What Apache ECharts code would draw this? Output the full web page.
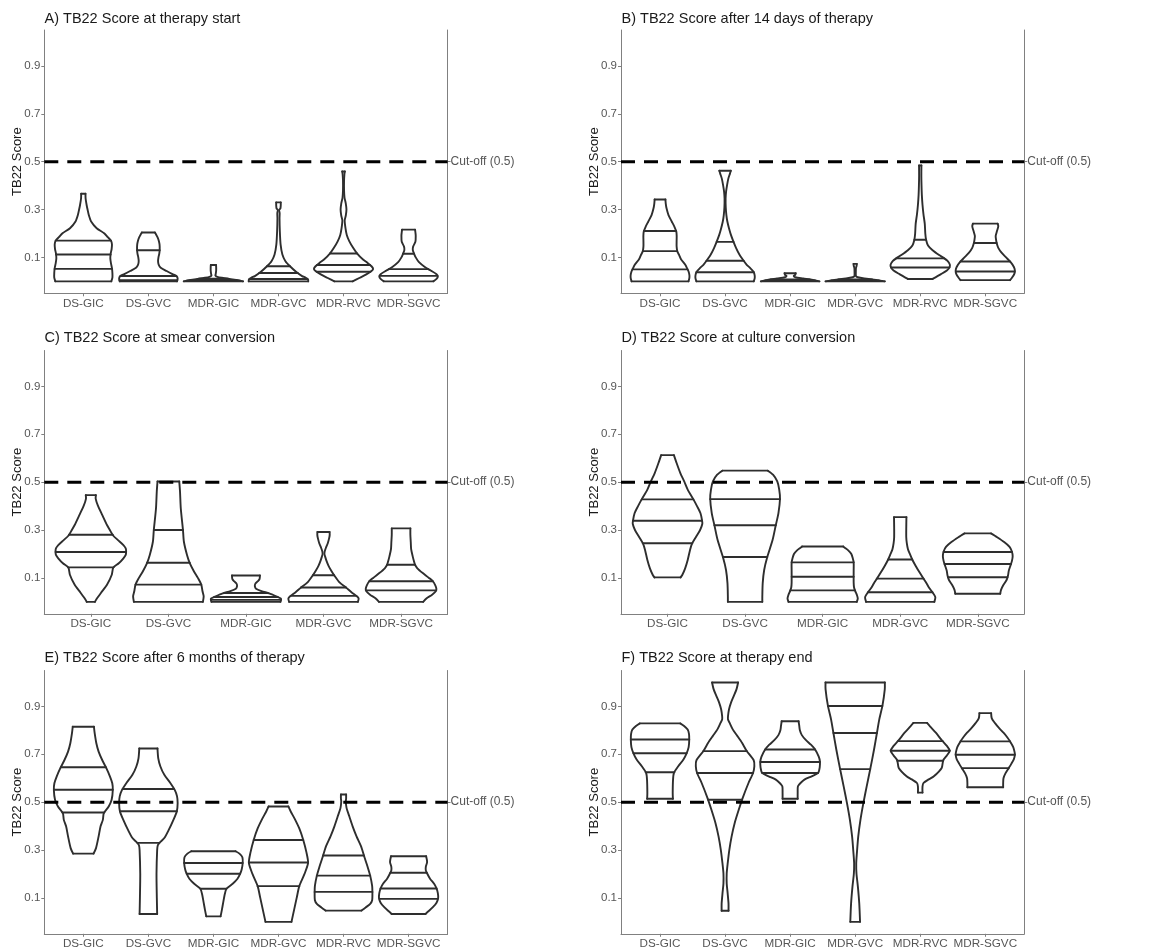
<!DOCTYPE html>
<html><head><meta charset="utf-8">
<script src="https://cdn.jsdelivr.net/npm/echarts@6/dist/echarts.min.js"></script>
<style>html,body{margin:0;padding:0;background:#fff}#c{width:1152px;height:951px}#err{position:absolute;left:100px;top:100px;font:11px monospace;color:red;white-space:pre;z-index:9}</style>
</head><body><div id="c"></div><div id="err"></div>
<script>
window.onerror = function(m,s,l,c,e){ document.getElementById('err').textContent += (e && e.stack ? e.stack : m) + '\n'; };
// ---------- categories & ticks ----------
const catsSix = ['DS-GIC','DS-GVC','MDR-GIC','MDR-GVC','MDR-RVC','MDR-SGVC'];
const catsFive = ['DS-GIC','DS-GVC','MDR-GIC','MDR-GVC','MDR-SGVC'];
const yTicks = [0.1,0.3,0.5,0.7,0.9];
const cutoff = 0.5;
const cutoffLabel = 'Cut-off (0.5)';
const titles = ['A) TB22 Score at therapy start','B) TB22 Score after 14 days of therapy',
  'C) TB22 Score at smear conversion','D) TB22 Score at culture conversion',
  'E) TB22 Score after 6 months of therapy','F) TB22 Score at therapy end'];

// ---------- violin profiles: [score, half-width in category units] ----------
// Panel A
const vA1 = [[0,0.43],[0.015,0.447],[0.035,0.447],[0.055,0.44],[0.075,0.425],[0.095,0.415],[0.115,0.42],[0.135,0.435],[0.155,0.44],[0.17,0.425],[0.185,0.375],[0.201,0.32],[0.222,0.205],[0.25,0.12],[0.277,0.084],[0.3,0.065],[0.32,0.05],[0.346,0.035],[0.366,0.033]];
const vA2 = [[0,0.44],[0.012,0.45],[0.022,0.43],[0.03,0.37],[0.043,0.28],[0.057,0.19],[0.07,0.158],[0.084,0.149],[0.1,0.155],[0.115,0.167],[0.131,0.174],[0.153,0.172],[0.17,0.16],[0.185,0.14],[0.195,0.12],[0.204,0.1]];
const vA3 = [[0,0.456],[0.005,0.38],[0.01,0.25],[0.015,0.13],[0.019,0.06],[0.024,0.03],[0.03,0.035],[0.045,0.042],[0.06,0.042],[0.068,0.04]];
const vA4 = [[0,0.457],[0.008,0.455],[0.015,0.42],[0.022,0.363],[0.04,0.27],[0.063,0.177],[0.084,0.107],[0.112,0.06],[0.153,0.033],[0.208,0.021],[0.263,0.016],[0.285,0.018],[0.298,0.01],[0.305,0.03],[0.318,0.035],[0.33,0.035]];
const vA5 = [[0,0.14],[0.015,0.25],[0.029,0.35],[0.043,0.43],[0.052,0.455],[0.063,0.43],[0.077,0.37],[0.091,0.3],[0.116,0.21],[0.139,0.15],[0.167,0.09],[0.194,0.05],[0.222,0.03],[0.255,0.018],[0.275,0.035],[0.3,0.045],[0.325,0.035],[0.35,0.015],[0.38,0.008],[0.42,0.008],[0.445,0.013],[0.459,0.02]];
const vA6 = [[0,0.38],[0.01,0.43],[0.02,0.45],[0.03,0.43],[0.045,0.34],[0.06,0.25],[0.08,0.16],[0.1,0.11],[0.115,0.085],[0.13,0.065],[0.145,0.07],[0.165,0.105],[0.19,0.11],[0.205,0.105],[0.216,0.1]];
const qA = [[0.052,0.112,0.17],[0.005,0.022,0.13],[0.003,0.006,0.011],[0.01,0.035,0.063],[0.04,0.068,0.116],[0.023,0.051,0.115]];
// Panel B
const vB1 = [[0,0.437],[0.012,0.45],[0.025,0.452],[0.04,0.44],[0.052,0.42],[0.07,0.386],[0.091,0.325],[0.112,0.29],[0.126,0.265],[0.146,0.255],[0.167,0.255],[0.19,0.256],[0.208,0.25],[0.229,0.22],[0.25,0.18],[0.277,0.13],[0.305,0.1],[0.325,0.088],[0.342,0.083]];
const vB2 = [[0,0.44],[0.012,0.455],[0.025,0.455],[0.039,0.44],[0.057,0.38],[0.07,0.33],[0.088,0.28],[0.112,0.22],[0.139,0.17],[0.165,0.13],[0.194,0.09],[0.222,0.06],[0.25,0.035],[0.277,0.02],[0.31,0.01],[0.346,0.008],[0.374,0.015],[0.401,0.03],[0.429,0.05],[0.45,0.075],[0.462,0.088]];
const vB3 = [[0,0.45],[0.006,0.35],[0.012,0.2],[0.017,0.08],[0.022,0.055],[0.028,0.08],[0.034,0.085]];
const vB4 = [[0,0.455],[0.006,0.32],[0.012,0.14],[0.017,0.04],[0.022,0.012],[0.04,0.01],[0.055,0.012],[0.065,0.022],[0.073,0.025]];
const vB5 = [[0.01,0.19],[0.03,0.32],[0.045,0.41],[0.058,0.45],[0.07,0.455],[0.085,0.42],[0.096,0.37],[0.11,0.29],[0.13,0.19],[0.15,0.12],[0.174,0.09],[0.2,0.078],[0.24,0.07],[0.28,0.05],[0.32,0.035],[0.36,0.025],[0.4,0.02],[0.44,0.017],[0.484,0.018]];
const vB6 = [[0.005,0.38],[0.015,0.41],[0.03,0.445],[0.045,0.455],[0.06,0.44],[0.08,0.39],[0.1,0.32],[0.12,0.25],[0.14,0.2],[0.16,0.175],[0.175,0.165],[0.19,0.16],[0.21,0.18],[0.23,0.2],[0.241,0.19]];
const qB = [[0.05,0.126,0.21],[0.038,0.086,0.165],[0.002,0.004,0.008],[0.002,0.004,0.008],[0.058,0.096,0.174],[0.041,0.083,0.16]];
// Panel C
const vC1 = [[0,0.053],[0.01,0.07],[0.037,0.13],[0.072,0.21],[0.113,0.27],[0.143,0.29],[0.161,0.36],[0.182,0.42],[0.196,0.45],[0.21,0.455],[0.223,0.45],[0.237,0.42],[0.258,0.35],[0.276,0.29],[0.3,0.245],[0.32,0.21],[0.361,0.15],[0.403,0.09],[0.43,0.063],[0.446,0.065]];
const vC2 = [[0,0.445],[0.023,0.455],[0.044,0.44],[0.072,0.424],[0.1,0.38],[0.127,0.33],[0.161,0.277],[0.196,0.24],[0.251,0.2],[0.3,0.188],[0.39,0.16],[0.46,0.15],[0.503,0.14]];
const vC3 = [[0,0.445],[0.01,0.453],[0.014,0.45],[0.023,0.39],[0.035,0.3],[0.045,0.2],[0.055,0.13],[0.065,0.115],[0.075,0.12],[0.085,0.15],[0.095,0.175],[0.11,0.18]];
const vC4 = [[0,0.443],[0.014,0.453],[0.023,0.43],[0.04,0.36],[0.06,0.29],[0.08,0.21],[0.11,0.14],[0.13,0.1],[0.15,0.065],[0.17,0.04],[0.19,0.02],[0.2,0.012],[0.21,0.015],[0.225,0.03],[0.245,0.055],[0.265,0.072],[0.28,0.08],[0.292,0.078]];
const vC5 = [[0,0.285],[0.015,0.33],[0.03,0.4],[0.045,0.45],[0.055,0.455],[0.07,0.44],[0.086,0.41],[0.1,0.36],[0.12,0.28],[0.14,0.21],[0.155,0.18],[0.165,0.17],[0.19,0.15],[0.22,0.13],[0.25,0.125],[0.28,0.12],[0.307,0.12]];
const qC = [[0.144,0.208,0.28],[0.072,0.163,0.3],[0.008,0.02,0.037],[0.025,0.06,0.111],[0.048,0.086,0.155]];
// Panel D
const vD1 = [[0.102,0.168],[0.112,0.19],[0.14,0.227],[0.175,0.26],[0.217,0.29],[0.243,0.316],[0.273,0.37],[0.3,0.42],[0.325,0.448],[0.34,0.445],[0.37,0.425],[0.4,0.38],[0.43,0.33],[0.469,0.26],[0.503,0.215],[0.538,0.165],[0.58,0.117],[0.613,0.082]];
const vD2 = [[0,0.222],[0.021,0.222],[0.077,0.227],[0.133,0.246],[0.186,0.285],[0.259,0.355],[0.319,0.395],[0.371,0.43],[0.431,0.45],[0.469,0.44],[0.503,0.415],[0.531,0.36],[0.548,0.293]];
const vD3 = [[0,0.44],[0.014,0.453],[0.03,0.44],[0.045,0.42],[0.06,0.405],[0.08,0.4],[0.13,0.4],[0.165,0.4],[0.18,0.39],[0.2,0.37],[0.215,0.33],[0.225,0.29],[0.231,0.265]];
const vD4 = [[0,0.44],[0.02,0.453],[0.038,0.42],[0.06,0.37],[0.08,0.335],[0.097,0.3],[0.12,0.255],[0.15,0.2],[0.177,0.155],[0.2,0.125],[0.22,0.1],[0.245,0.085],[0.27,0.078],[0.31,0.078],[0.354,0.08]];
const vD5 = [[0.034,0.29],[0.05,0.3],[0.07,0.33],[0.09,0.37],[0.11,0.39],[0.13,0.4],[0.15,0.42],[0.17,0.44],[0.19,0.45],[0.21,0.44],[0.23,0.41],[0.25,0.34],[0.27,0.25],[0.286,0.17]];
const qD = [[0.245,0.339,0.428],[0.187,0.32,0.429],[0.048,0.105,0.165],[0.04,0.097,0.177],[0.103,0.158,0.208]];
// Panel E
const vE1 = [[0.285,0.157],[0.308,0.195],[0.357,0.235],[0.399,0.265],[0.426,0.3],[0.454,0.315],[0.482,0.39],[0.51,0.435],[0.551,0.453],[0.579,0.445],[0.607,0.41],[0.644,0.35],[0.676,0.29],[0.711,0.235],[0.746,0.2],[0.787,0.175],[0.815,0.163]];
const vE2 = [[0.033,0.135],[0.1,0.13],[0.2,0.125],[0.3,0.135],[0.32,0.145],[0.33,0.17],[0.35,0.245],[0.385,0.315],[0.426,0.385],[0.461,0.437],[0.496,0.45],[0.525,0.44],[0.551,0.405],[0.579,0.34],[0.614,0.245],[0.649,0.185],[0.683,0.152],[0.724,0.14]];
const vE3 = [[0.023,0.11],[0.05,0.13],[0.08,0.15],[0.11,0.17],[0.138,0.2],[0.16,0.3],[0.18,0.37],[0.2,0.41],[0.22,0.435],[0.246,0.45],[0.27,0.445],[0.285,0.4],[0.295,0.34]];
const vE4 = [[0,0.2],[0.05,0.24],[0.1,0.28],[0.149,0.32],[0.2,0.4],[0.246,0.455],[0.29,0.43],[0.343,0.38],[0.39,0.32],[0.43,0.25],[0.46,0.19],[0.482,0.152]];
const vE5 = [[0.047,0.276],[0.06,0.34],[0.075,0.41],[0.09,0.44],[0.124,0.444],[0.15,0.44],[0.193,0.41],[0.23,0.37],[0.276,0.315],[0.315,0.27],[0.357,0.2],[0.399,0.14],[0.44,0.09],[0.475,0.047],[0.503,0.035],[0.515,0.04],[0.532,0.04]];
const vE6 = [[0.033,0.26],[0.045,0.31],[0.06,0.37],[0.08,0.43],[0.1,0.455],[0.12,0.45],[0.14,0.43],[0.16,0.39],[0.18,0.33],[0.205,0.28],[0.215,0.265],[0.23,0.265],[0.25,0.285],[0.274,0.27]];
const qE = [[0.457,0.552,0.646],[0.33,0.462,0.555],[0.138,0.201,0.246],[0.149,0.248,0.342],[0.125,0.193,0.277],[0.096,0.139,0.205]];
// Panel F
const vF1 = [[0.514,0.198],[0.538,0.195],[0.594,0.2],[0.622,0.214],[0.65,0.28],[0.678,0.36],[0.705,0.41],[0.73,0.44],[0.761,0.449],[0.785,0.445],[0.803,0.425],[0.818,0.37],[0.829,0.31]];
const vF2 = [[0.046,0.053],[0.076,0.053],[0.118,0.04],[0.16,0.025],[0.202,0.025],[0.244,0.04],[0.3,0.065],[0.356,0.1],[0.412,0.147],[0.468,0.21],[0.517,0.27],[0.58,0.36],[0.622,0.43],[0.65,0.45],[0.675,0.44],[0.715,0.33],[0.748,0.26],[0.776,0.19],[0.803,0.12],[0.831,0.07],[0.845,0.045],[0.859,0.045],[0.887,0.06],[0.915,0.09],[0.943,0.133],[0.971,0.175],[1.0,0.2]];
const vF3 = [[0.514,0.116],[0.54,0.116],[0.566,0.12],[0.58,0.16],[0.594,0.22],[0.608,0.33],[0.622,0.43],[0.645,0.455],[0.67,0.458],[0.69,0.44],[0.72,0.384],[0.74,0.32],[0.76,0.24],[0.78,0.18],[0.8,0.15],[0.82,0.14],[0.838,0.13]];
const vF4 = [[0,0.075],[0.076,0.063],[0.146,0.042],[0.202,0.02],[0.244,0.016],[0.286,0.026],[0.356,0.047],[0.426,0.081],[0.496,0.126],[0.566,0.177],[0.64,0.233],[0.72,0.29],[0.79,0.335],[0.845,0.37],[0.904,0.42],[0.971,0.455],[1.0,0.456]];
const vF5 = [[0.54,0.035],[0.565,0.035],[0.58,0.05],[0.595,0.13],[0.608,0.21],[0.643,0.33],[0.675,0.354],[0.695,0.41],[0.715,0.454],[0.735,0.41],[0.757,0.337],[0.79,0.24],[0.817,0.15],[0.831,0.105]];
const vF6 = [[0.562,0.275],[0.58,0.275],[0.6,0.28],[0.62,0.31],[0.642,0.36],[0.66,0.4],[0.68,0.44],[0.698,0.455],[0.71,0.45],[0.73,0.43],[0.754,0.38],[0.77,0.34],[0.79,0.28],[0.81,0.21],[0.83,0.15],[0.85,0.1],[0.872,0.09]];
const qF = [[0.625,0.704,0.762],[0.51,0.622,0.713],[0.622,0.668,0.72],[0.638,0.789,0.902],[0.673,0.715,0.755],[0.642,0.698,0.754]];

// ---------- layout ----------
const FONT = '"Liberation Sans", Arial, sans-serif';
const panels = [
  {cats:catsSix,  v:[vA1,vA2,vA3,vA4,vA5,vA6], q:qA, left:44.3, top:30,  title:[44.5,11.5]},
  {cats:catsSix,  v:[vB1,vB2,vB3,vB4,vB5,vB6], q:qB, left:621,  top:30,  title:[621.5,11.5]},
  {cats:catsFive, v:[vC1,vC2,vC3,vC4,vC5],     q:qC, left:44.3, top:350.5, title:[44.5,330.5]},
  {cats:catsFive, v:[vD1,vD2,vD3,vD4,vD5],     q:qD, left:621,  top:350.5, title:[621.5,330.5]},
  {cats:catsSix,  v:[vE1,vE2,vE3,vE4,vE5,vE6], q:qE, left:44.3, top:670.5, title:[44.5,650.5]},
  {cats:catsSix,  v:[vF1,vF2,vF3,vF4,vF5,vF6], q:qF, left:621,  top:670.5, title:[621.5,650.5]}
];
const PW = 403.3, PH = 263.3;
const AX = '#808080', LBL = '#555555', VC = '#2e2e2e';

function widthAt(prof, y){
  if (y <= prof[0][0]) return prof[0][1];
  for (let k=1;k<prof.length;k++){
    if (y <= prof[k][0]){
      const a=prof[k-1], b=prof[k];
      return a[1] + (b[1]-a[1])*(y-a[0])/(b[0]-a[0]);
    }
  }
  return prof[prof.length-1][1];
}

function makeRender(p){
  return function(params, api){
    const idx = api.value(2);
    const prof = p.v[idx];
    const qs = p.q[idx];
    const cx = api.value(0);
    const right = prof.map(d => api.coord([cx + d[1], d[0]]));
    const left = prof.map(d => api.coord([cx - d[1], d[0]])).reverse();
    const st = {stroke:VC, lineWidth:1.9, fill:null, lineJoin:'round', lineCap:'round'};
    const ch = [];
    ch.push({type:'polyline', shape:{points:right, smooth:0.25}, style:st});
    ch.push({type:'polyline', shape:{points:left, smooth:0.25}, style:st});
    const tl = left[0], tr = right[right.length-1], br = right[0], bl = left[left.length-1];
    ch.push({type:'line', shape:{x1:tl[0], y1:tl[1], x2:tr[0], y2:tr[1]}, style:st});
    ch.push({type:'line', shape:{x1:br[0], y1:br[1], x2:bl[0], y2:bl[1]}, style:st});
    qs.forEach(qv => {
      const hw = widthAt(prof, qv);
      const a = api.coord([cx - hw, qv]), b = api.coord([cx + hw, qv]);
      ch.push({type:'line', shape:{x1:a[0], y1:a[1], x2:b[0], y2:b[1]}, style:st});
    });
    return {type:'group', children:ch};
  };
}
function makeCutRender(p){
  return function(params, api){
    const a = api.coord([0.4, api.value(1)]);
    const b = api.coord([p.cats.length + 0.6, api.value(1)]);
    return {type:'line', shape:{x1:a[0], y1:a[1], x2:b[0], y2:b[1]},
      style:{stroke:'#000', lineWidth:3, lineDash:[14,9], lineCap:'butt'}};
  };
}

const option = {
  animation:false,
  backgroundColor:'#fff',
  title: panels.map((p,i)=>({text:titles[i], left:p.title[0], top:p.title[1], padding:0,
    textStyle:{fontSize:14.5, fontWeight:'normal', color:'#1a1a1a', fontFamily:FONT}})),
  grid: panels.map(p=>({left:p.left, top:p.top, width:PW, height:PH})),
  xAxis: panels.map((p,i)=>{
    const pos = p.cats.map((c,k)=>k+1);
    return {type:'value', gridIndex:i, min:0.4, max:p.cats.length+0.6,
      axisLine:{show:true, onZero:false, lineStyle:{color:AX, width:1}},
      axisTick:{show:true, customValues:pos, length:3, lineStyle:{color:AX}},
      axisLabel:{show:true, customValues:pos, formatter:v=>p.cats[Math.round(v)-1], color:LBL, fontSize:11.7, fontFamily:FONT, margin:4},
      splitLine:{show:false}};
  }),
  yAxis: [],
  series: []
};
panels.forEach((p,i)=>{
  option.yAxis.push({type:'value', gridIndex:i, position:'left', min:-0.05, max:1.05,
    axisLine:{show:true, onZero:false, lineStyle:{color:AX, width:1}},
    axisTick:{show:true, customValues:yTicks, length:3, lineStyle:{color:AX}},
    axisLabel:{show:true, customValues:yTicks, formatter:v=>v.toFixed(1), color:LBL, fontSize:11.5, fontFamily:FONT, margin:4},
    splitLine:{show:false},
    name:'TB22 Score', nameLocation:'middle', nameGap:20, nameMoveOverlap:false,
    nameTextStyle:{fontSize:13, color:'#1a1a1a', fontFamily:FONT}});
  option.yAxis.push({type:'value', gridIndex:i, position:'right', min:-0.05, max:1.05,
    axisLine:{show:true, onZero:false, lineStyle:{color:AX, width:1}},
    axisTick:{show:true, customValues:[cutoff], length:3, lineStyle:{color:AX}},
    axisLabel:{show:true, customValues:[cutoff], formatter:()=>cutoffLabel, color:LBL, fontSize:12, fontFamily:FONT, margin:3},
    splitLine:{show:false}});
  option.series.push({type:'custom', xAxisIndex:i, yAxisIndex:2*i, clip:false, silent:true,
    data:p.cats.map((c,k)=>[k+1, 0, k]), encode:{x:0, y:1}, renderItem:makeRender(p), z:2});
  option.series.push({type:'custom', xAxisIndex:i, yAxisIndex:2*i, clip:false, silent:true,
    data:[[1, cutoff]], encode:{x:0, y:1}, renderItem:makeCutRender(p), z:10});
});
const chart = echarts.init(document.getElementById('c'), null, {renderer:'canvas'});
try { chart.setOption(option); } catch(e) { document.getElementById('err').textContent += e.stack; }
</script></body></html>
